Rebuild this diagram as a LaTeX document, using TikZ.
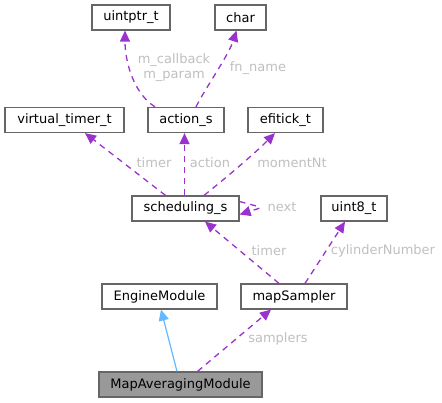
\documentclass[tikz,border=0pt]{standalone}
\usepackage{fontspec}
\setmainfont{DejaVu Sans}
\usetikzlibrary{arrows.meta}
\definecolor{edgep}{HTML}{9A32CD}
\definecolor{edgeb}{HTML}{63B8FF}
\definecolor{boxb}{HTML}{666666}
\definecolor{lblc}{HTML}{BFBFBF}
\definecolor{hfill}{HTML}{999999}
\tikzset{
  cls/.style={draw=boxb, line width=1.2pt, fill=white, minimum height=25pt, inner sep=0pt, font=\fontsize{13}{15}\selectfont},
  uses/.style={draw=edgep, color=edgep, line width=1.3pt, dash pattern=on 6pt off 5pt, -{Triangle[length=11pt,width=10pt]}},
  inh/.style={draw=edgeb, color=edgeb, line width=1.2pt, -{Triangle[length=11pt,width=10pt]}},
  lbl/.style={text=lblc, font=\fontsize{13}{15}\selectfont, inner sep=0pt, align=center}
}
\begin{document}
\begin{tikzpicture}[x=1pt,y=-1pt]
\useasboundingbox (0,0) rectangle (442,403);
\node[cls, minimum width=78pt] (ut) at (131,17.5) {uintptr\_t};
\node[cls, minimum width=51pt] (ch) at (240.5,17.5) {char};
\node[cls, minimum width=119pt] (vt) at (64.5,120) {virtual\_timer\_t};
\node[cls, minimum width=76pt] (ac) at (186,120) {action\_s};
\node[cls, minimum width=75pt] (ef) at (285.5,120) {efitick\_t};
\node[cls, minimum width=107pt] (sc) at (185.5,208.5) {scheduling\_s};
\node[cls, minimum width=66pt] (u8) at (354,208.5) {uint8\_t};
\node[cls, minimum width=115pt] (em) at (159.5,296.5) {EngineModule};
\node[cls, minimum width=106pt] (ms) at (294,296.5) {mapSampler};
\node[cls, minimum width=163pt, fill=hfill] (ma) at (180.5,384.5) {MapAveragingModule};

% edges
\draw[uses] ([xshift=-31pt]ac.north) .. controls +(-22,-14) and +(0,30) .. ([xshift=-6pt]ut.south);
\draw[uses] ([xshift=10pt]ac.north) .. controls +(10,-20) and +(-8,25) .. ([xshift=-4pt]ch.south);
\draw[uses] ([xshift=-20pt]sc.north) -- ([xshift=20.5pt]vt.south);
\draw[uses] ([xshift=-1pt]sc.north) -- ([xshift=-1.5pt]ac.south);
\draw[uses] ([xshift=18.5pt]sc.north) .. controls +(25,-20) and +(-20,20) .. ([xshift=-10.5pt]ef.south);
\draw[uses] ([yshift=7pt]sc.east) .. controls +(25,7) and +(25,-8) .. ([yshift=-6pt]sc.east);
\draw[uses] ([xshift=-15pt]ms.north) -- ([xshift=19.5pt]sc.south);
\draw[uses] ([xshift=11pt]ms.north) -- ([xshift=-9pt]u8.south);
\draw[inh] ([xshift=-3.5pt]ma.north) -- ([xshift=1.5pt]em.south);
\draw[uses] ([xshift=17pt]ma.north) -- ([xshift=-23pt]ms.south);

% labels
\node[lbl] (l1) at (174,68) {m\_callback\\m\_param};
\node[lbl] (l2) at (258,68) {fn\_name};
\node[lbl] (l3) at (154,163) {timer};
\node[lbl] (l4) at (210,163) {action};
\node[lbl] (l5) at (292,163) {momentNt};
\node[lbl] (l6) at (282,207.5) {next};
\node[lbl] (l7) at (269,251) {timer};
\node[lbl] (l8) at (383,251) {cylinderNumber};
\node[lbl] (l9) at (278,339) {samplers};
\end{tikzpicture}
\end{document}
